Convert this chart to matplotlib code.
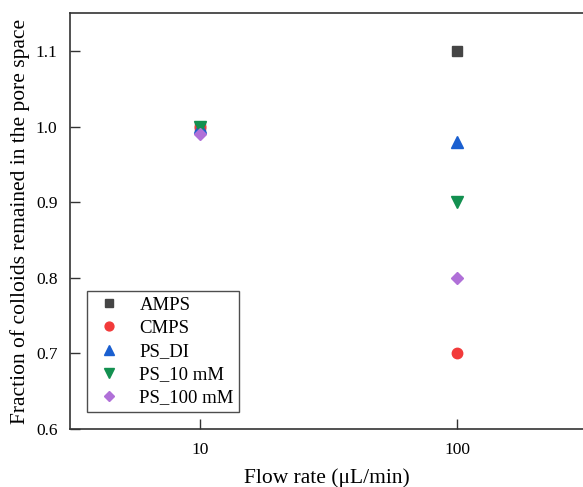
import matplotlib
matplotlib.use("Agg")
import matplotlib.pyplot as plt

# Flow rates (uL/min) and fraction of colloids remaining
flow_rates = [10, 100]
series_names = ["AMPS", "CMPS", "PS_DI", "PS_10 mM", "PS_100 mM"]
amps = [1.00, 1.10]
cmps = [1.00, 0.70]
ps_di = [1.00, 0.98]
ps_10mm = [1.00, 0.90]
ps_100mm = [0.99, 0.80]

plt.rcParams['font.family'] = ['Liberation Serif', 'DejaVu Serif']

fig = plt.figure(figsize=(5.83, 4.87), dpi=100)
ax = fig.add_axes([0.120, 0.119, 0.88, 0.854])

styles = [
    (amps, 's', '#454545', 7),
    (cmps, 'o', '#f23a3a', 7.5),
    (ps_di, '^', '#1a5fd0', 9),
    (ps_10mm, 'v', '#139050', 9),
    (ps_100mm, 'D', '#b070d8', 6.5),
]
for name, (vals, mk, col, ms) in zip(series_names, styles):
    ax.plot(flow_rates, vals, linestyle='none', marker=mk, color=col,
            markersize=ms, label=name)

ax.set_xscale('log')
ax.set_xlim(3.12, 309)
ax.set_ylim(0.6, 1.15)
ax.set_xticks([10, 100])
ax.set_xticklabels(['10', '100'])
ax.minorticks_off()
ax.set_yticks([0.6, 0.7, 0.8, 0.9, 1.0, 1.1])
ax.set_yticklabels(['0.6', '0.7', '0.8', '0.9', '1.0', '1.1'])
ax.tick_params(direction='in', length=7, width=1, labelsize=12.5, pad=9,
               color='#333333')

for s in ['left', 'bottom', 'top']:
    ax.spines[s].set_color('#333333')
    ax.spines[s].set_linewidth(1.2)
ax.spines['right'].set_visible(False)

ax.set_xlabel('Flow rate (μL/min)', fontsize=15.5, labelpad=8)
ax.set_ylabel('Fraction of colloids remained in the pore space', fontsize=15.5,
              labelpad=4)

leg = ax.legend(loc='lower left', bbox_to_anchor=(0.033, 0.041), fontsize=13.5,
                frameon=True, fancybox=False, edgecolor='#222222',
                handletextpad=0.7, borderpad=0.3, labelspacing=0.32,
                handlelength=1.8, markerscale=0.85, borderaxespad=0)
leg.get_frame().set_linewidth(1.0)

fig.savefig('out.png', dpi=100)
